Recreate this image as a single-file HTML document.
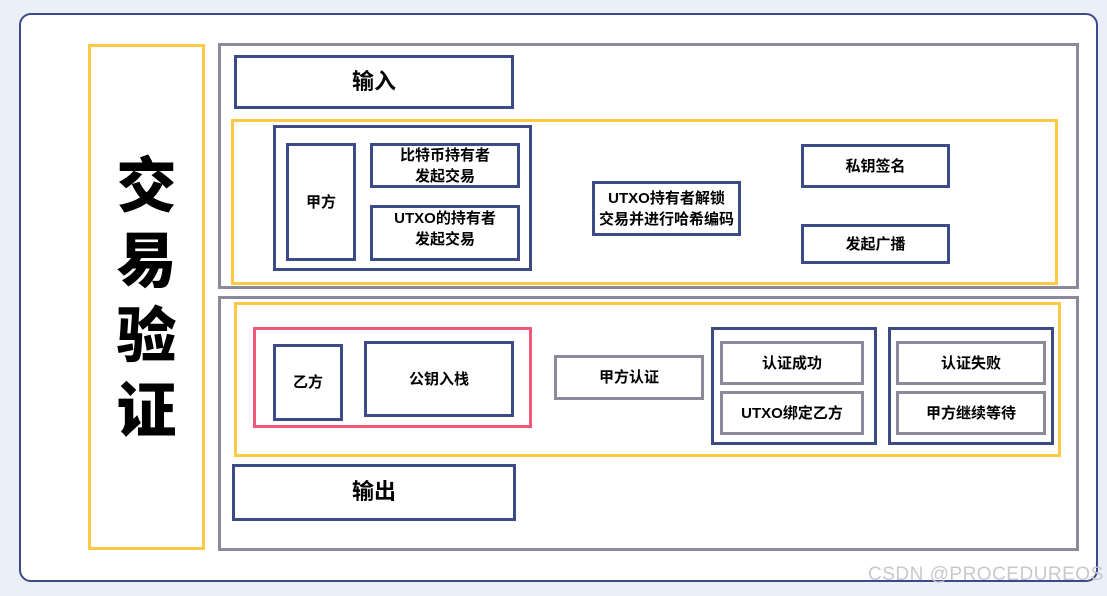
<!DOCTYPE html>
<html><head><meta charset="utf-8"><style>
body{margin:0;width:1107px;height:596px;background:#eaeff8;position:relative;overflow:hidden;font-family:"Liberation Sans","Noto Sans CJK SC",sans-serif;}
.b{position:absolute;box-sizing:border-box;display:flex;align-items:center;justify-content:center;text-align:center;font-weight:bold;color:#000;line-height:1.4;}
.n{border:3px solid #3c4a87;background:#fff;}
.g{border:3px solid #8a8a9a;background:#fff;}
.y{border:3px solid #ffc845;}
.s{font-size:15px;}
</style></head><body>
<div class="b" style="left:19px;top:13px;width:1079px;height:569px;border:2.5px solid #3c4a87;border-radius:12px;background:#fff;"></div>
<div class="b y" style="left:88px;top:44px;width:117px;height:506px;background:#fff;font-size:60px;flex-direction:column;line-height:1.25;font-weight:900;padding-top:4px;">交<br>易<br>验<br>证</div>
<div class="b g" style="left:218px;top:43px;width:861px;height:246px;"></div>
<div class="b g" style="left:218px;top:296px;width:861px;height:255px;"></div>
<div class="b n" style="left:234px;top:55px;width:280px;height:54px;font-size:22px;">输入</div>
<div class="b y" style="left:231px;top:119px;width:827px;height:166px;"></div>
<div class="b n" style="left:273px;top:125px;width:259px;height:146px;"></div>
<div class="b n s" style="left:286px;top:143px;width:70px;height:118px;">甲方</div>
<div class="b n s" style="left:370px;top:143px;width:150px;height:45px;">比特币持有者<br>发起交易</div>
<div class="b n s" style="left:370px;top:205px;width:150px;height:56px;align-items:flex-start;">UTXO的持有者<br>发起交易</div>
<div class="b n s" style="left:592px;top:181px;width:149px;height:55px;">UTXO持有者解锁<br>交易并进行哈希编码</div>
<div class="b n s" style="left:801px;top:144px;width:149px;height:44px;">私钥签名</div>
<div class="b n s" style="left:801px;top:224px;width:149px;height:40px;">发起广播</div>
<div class="b y" style="left:234px;top:302px;width:827px;height:155px;"></div>
<div class="b" style="left:253px;top:327px;width:279px;height:101px;border:3px solid #f0587a;"></div>
<div class="b n s" style="left:273px;top:344px;width:70px;height:77px;">乙方</div>
<div class="b n s" style="left:364px;top:341px;width:150px;height:76px;">公钥入栈</div>
<div class="b g s" style="left:554px;top:355px;width:150px;height:45px;">甲方认证</div>
<div class="b n" style="left:711px;top:327px;width:166px;height:118px;"></div>
<div class="b g s" style="left:720px;top:341px;width:144px;height:44px;">认证成功</div>
<div class="b g s" style="left:720px;top:391px;width:144px;height:44px;">UTXO绑定乙方</div>
<div class="b n" style="left:888px;top:327px;width:166px;height:118px;"></div>
<div class="b g s" style="left:896px;top:341px;width:150px;height:44px;">认证失败</div>
<div class="b g s" style="left:896px;top:391px;width:150px;height:44px;">甲方继续等待</div>
<div class="b n" style="left:232px;top:464px;width:284px;height:57px;font-size:22px;">输出</div>
<div style="position:absolute;left:868px;top:564px;font-size:19px;color:#c8c8ce;font-family:'Liberation Sans',sans-serif;letter-spacing:0.5px;">CSDN @PROCEDUREOS</div>
</body></html>
